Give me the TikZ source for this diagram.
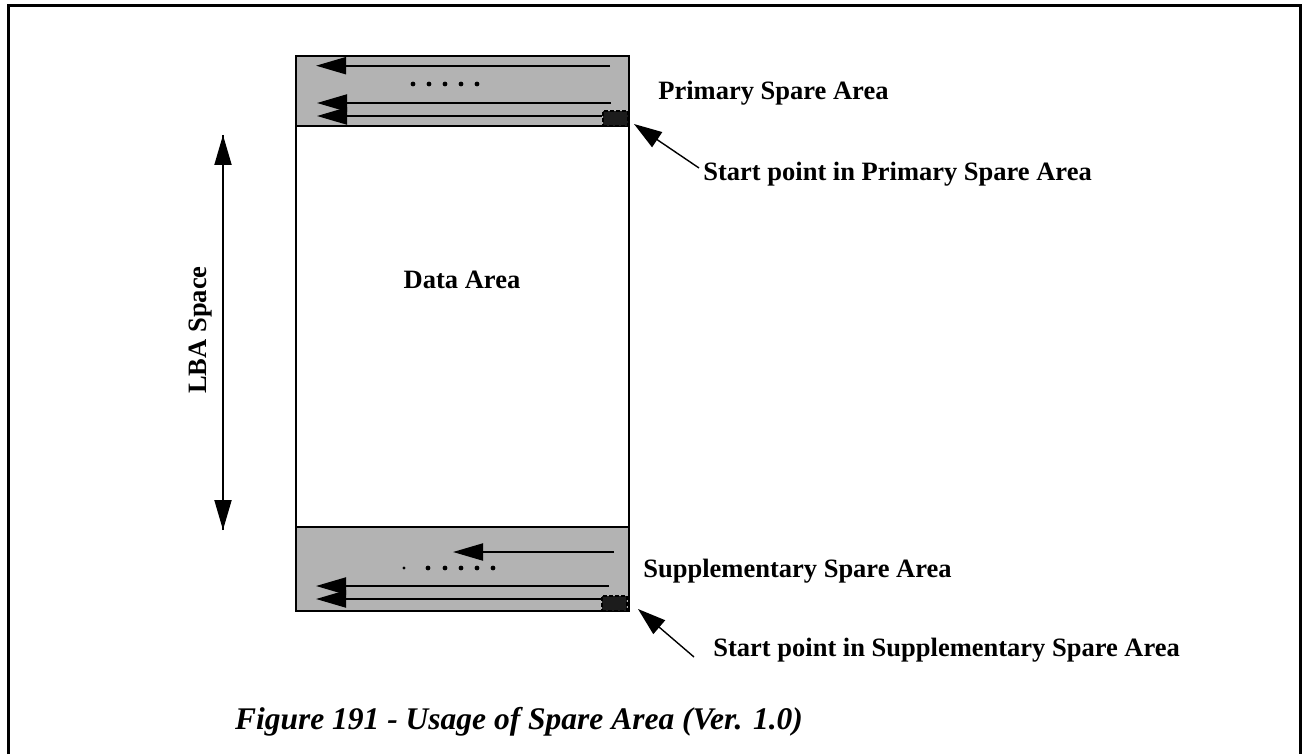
\documentclass[tikz,border=0pt]{standalone}
\usepackage{fontspec}
\setmainfont{Liberation Serif}
\usetikzlibrary{arrows.meta}
\definecolor{sparegray}{HTML}{b3b3b3}
\definecolor{markink}{HTML}{1c1c1c}

\begin{document}
\begin{tikzpicture}[x=0.5pt,y=-0.5pt,
  font=\fontsize{13.25}{15}\selectfont\bfseries,
  area/.style={draw,line width=1pt,minimum width=166.5pt,inner sep=0pt},
  spare/.style={area,fill=sparegray},
  startmark/.style={draw,dash pattern=on 2pt off 1pt,fill=markink,line width=0.6pt,minimum width=12.5pt,minimum height=7.5pt,inner sep=0pt},
  scan/.style={-{Triangle[length=15pt,width=8.5pt]},line width=1pt},
  ptr/.style={-{Triangle[length=14pt,width=9pt]},line width=0.7pt},
  lbl/.style={anchor=base west,inner sep=0pt}]
  \useasboundingbox (0,0) rectangle (1304,754);
  \draw[line width=1.5pt] (8,754) |- (1300,5.5) -- (1300,754);

  % the three areas
  \node[spare,minimum height=35pt] (primary) at (462.5,91) {};
  \node[area,minimum height=200.5pt] (data) at (462.5,326.5) {};
  \node[spare,minimum height=42pt] (supp) at (462.5,569) {};
  \node (datalbl) at (462,280) {Data Area};
  \node[startmark] (pmark) at (615.5,118.5) {};
  \node[startmark] (smark) at (614.5,603.5) {};

  % scan order in primary spare area
  \coordinate (p1a) at (610,65.7);  \coordinate (p1b) at (316,65.7);
  \coordinate (p2a) at (611,103);   \coordinate (p2b) at (317,103);
  \coordinate (p3b) at (317,116);
  \draw[scan] (p1a) -- (p1b);
  \draw[scan] (p2a) -- (p2b);
  \draw[scan] (pmark.west |- p3b) -- (p3b);
  \foreach \x in {413,429,445,461,477}
    \fill (\x,84) circle (2.4);

  % scan order in supplementary spare area
  \coordinate (s1a) at (614,552);   \coordinate (s1b) at (453,552);
  \coordinate (s2a) at (609,586);   \coordinate (s2b) at (316,586);
  \coordinate (s3b) at (316,599);
  \draw[scan] (s1a) -- (s1b);
  \draw[scan] (s2a) -- (s2b);
  \draw[scan] (smark.west |- s3b) -- (s3b);
  \fill (404,568) circle (1.6);
  \foreach \x in {428,445,461,477,493}
    \fill (\x,568) circle (2.4);

  % LBA space
  \coordinate (lbatop) at (223,135);
  \coordinate (lbabot) at (223,530);
  \draw[scan] (lbatop) -- (lbabot);
  \draw[scan] (lbabot) -- (lbatop);
  \node[rotate=90] (lba) at (201,330) {LBA Space};

  % labels
  \node[lbl] (plbl) at (658,100) {Primary Spare Area};
  \node[lbl] (slbl) at (643,577) {Supplementary Spare Area};
  \node[lbl] (pstart) at (703,181) {Start point in Primary Spare Area};
  \node[lbl] (sstart) at (713,656) {Start point in Supplementary Spare Area};
  \coordinate (ptail) at (699,168);  \coordinate (ptip) at (634,124);
  \coordinate (stail) at (694,657);  \coordinate (stip) at (638,609);
  \draw[ptr] (ptail) -- (ptip);
  \draw[ptr] (stail) -- (stip);

  \node[font=\fontsize{15.75}{18}\selectfont\bfseries\itshape] (caption) at (519,722)
    {Figure 191 - Usage of Spare Area (Ver. 1.0)};
\end{tikzpicture}
\end{document}
